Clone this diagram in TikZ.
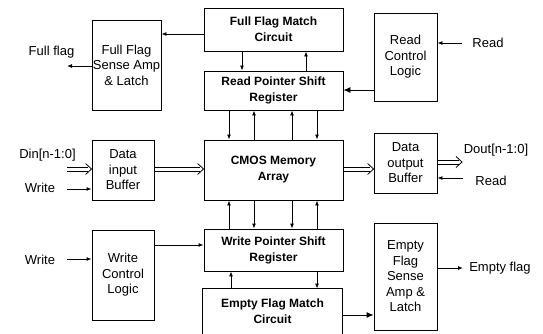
\documentclass[tikz,border=0pt]{standalone}
\usepackage{fontspec}
\setmainfont{Liberation Sans}
\usetikzlibrary{arrows.meta,calc}
\tikzset{
  box/.style={draw, line width=0.9pt, inner sep=0pt, align=center,
    font=\fontsize{13}{15.5}\selectfont},
  bbox/.style={box, font=\fontsize{12}{16}\selectfont\bfseries},
  lbl/.style={inner sep=0pt, font=\fontsize{13}{15.5}\selectfont},
  arr/.style={line width=0.9pt, -{Latex[length=5pt,width=4pt]}},
  barr/.style={line width=0.9pt, -{Latex[length=7pt,width=6pt]}},
  hline/.style={line width=0.8pt, line join=miter},
}
\newcommand\hollowarrow[2]{%
  \draw[hline] ($#1+(0,-2)$) -- ($#2+(-3.5,-2)$);
  \draw[hline] ($#1+(0,2)$) -- ($#2+(-3.5,2)$);
  \draw[hline] ($#2+(-6,-5.5)$) -- #2 -- ($#2+(-6,5.5)$);
}
\begin{document}
\begin{tikzpicture}[x=1pt,y=-1pt]
\useasboundingbox (0,0) rectangle (543,333);
% boxes
\node[bbox, minimum width=139pt, minimum height=43pt] (fm) at (273.5,29.5) {Full Flag Match\\Circuit};
\node[bbox, minimum width=139pt, minimum height=39pt] (rp) at (273.5,90.5) {Read Pointer Shift\\Register};
\node[box, minimum width=69pt, minimum height=90pt] (fsa) at (126.5,65) {Full Flag\\Sense Amp\\\& Latch};
\node[box, minimum width=63pt, minimum height=88pt] (rcl) at (405.5,57) {Read\\Control\\Logic};
\node[bbox, minimum width=139pt, minimum height=60pt] (cmos) at (273.5,170) {CMOS Memory\\Array};
\node[box, minimum width=62pt, minimum height=60pt] (dib) at (123,170) {Data\\input\\Buffer};
\node[box, minimum width=63pt, minimum height=60pt] (dob) at (405.5,163) {Data\\output\\Buffer};
\node[bbox, minimum width=139pt, minimum height=42pt] (wp) at (273.5,250) {Write Pointer Shift\\Register};
\node[box, minimum width=62pt, minimum height=90pt] (wcl) at (123,275) {Write\\Control\\Logic};
\node[bbox, draw=none, minimum width=139pt, minimum height=45pt] (em) at (272.5,311.5) {Empty Flag Match\\Circuit};
\draw[line width=0.9pt] (em.south west) -- (em.north west) -- (em.north east) -- (em.south east);
\node[box, minimum width=63pt, minimum height=107pt] (esa) at (405.5,276.5) {Empty\\Flag\\Sense\\Amp \&\\Latch};
% labels
\node[lbl] (ffl) at (51.5,52) {Full flag};
\node[lbl] (rd1) at (488,43) {Read};
\node[lbl] (din) at (47.5,155) {Din[n-1:0]};
\node[lbl] (wr1) at (40,188) {Write};
\node[lbl] (dout) at (496,150) {Dout[n-1:0]};
\node[lbl] (rd2) at (491,181) {Read};
\node[lbl] (wr2) at (40,260) {Write};
\node[lbl] (efl) at (500,268) {Empty flag};
% free ends
\coordinate (ffend) at (67,66);
\coordinate (rd1s) at (462,43);
\coordinate (dins) at (67,169);
\coordinate (wr1s) at (67,189);
\coordinate (doutend) at (462,162);
\coordinate (rd2s) at (463,178);
\coordinate (wr2s) at (67,259);
\coordinate (eflend) at (463,268);
% connectors top
\draw[arr] (fm.west |- 0,34) -- (fsa.east |- 0,34);
\draw[arr] (fsa.west |- ffend) -- (ffend);
\draw[arr] (fm.south -| 242,0) -- (rp.north -| 242,0);
\draw[arr] (rp.north -| 306,0) -- (fm.south -| 306,0);
\draw[arr] (rd1s) -- (rcl.east |- rd1s);
\draw[barr] (rcl.west |- 0,90) -- (rp.east |- 0,90);
% rp <-> cmos
\draw[arr] (rp.south -| 229,0) -- (cmos.north -| 229,0);
\draw[arr] (cmos.north -| 254,0) -- (rp.south -| 254,0);
\draw[arr] (cmos.north -| 292,0) -- (rp.south -| 292,0);
\draw[arr] (rp.south -| 317,0) -- (cmos.north -| 317,0);
% cmos <-> wp
\draw[arr] (wp.north -| 229,0) -- (cmos.south -| 229,0);
\draw[arr] (cmos.south -| 254,0) -- (wp.north -| 254,0);
\draw[arr] (cmos.south -| 292,0) -- (wp.north -| 292,0);
\draw[arr] (wp.north -| 317,0) -- (cmos.south -| 317,0);
% data path
\hollowarrow{(dins)}{(dib.west |- dins)}
\draw[arr] (wr1s) -- (dib.west |- wr1s);
\hollowarrow{(dib.east |- 0,169)}{(cmos.west |- 0,169)}
\hollowarrow{(cmos.east |- 0,169)}{(dob.west |- 0,169)}
\hollowarrow{(dob.east |- doutend)}{(doutend)}
\draw[arr] (rd2s) -- (dob.east |- rd2s);
% bottom
\draw[arr] (wr2s) -- (wcl.west |- wr2s);
\draw[arr] (wcl.east |- 0,245) -- (wp.west |- 0,245);
\draw[arr] (em.north -| 231,0) -- (wp.south -| 231,0);
\draw[arr] (wp.south -| 317,0) -- (em.north -| 317,0);
\draw[barr] (em.east |- 0,315) -- (esa.west |- 0,315);
\draw[arr] (esa.east |- eflend) -- (eflend);
\end{tikzpicture}
\end{document}
